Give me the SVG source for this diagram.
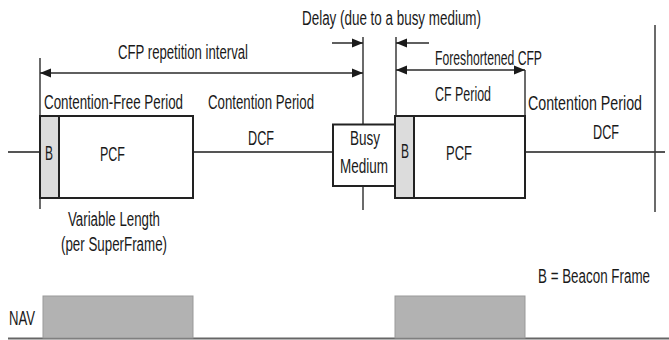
<svg xmlns="http://www.w3.org/2000/svg" width="669" height="340" viewBox="0 0 669 340">
<defs>
<style>
text{font-family:"Liberation Sans",Arial,sans-serif;font-size:20px;fill:#1a1a1a}
.ln{stroke:#3a3a3a;stroke-width:1.5;fill:none}
.tl{stroke:#555;stroke-width:1.8;fill:none}
.box{fill:#fff;stroke:#222;stroke-width:2}
.bcn{fill:#dcdcdc;stroke:#222;stroke-width:2}
.nav{fill:#b2b2b2;stroke:#999;stroke-width:1}
.arr{stroke:#2a2a2a;stroke-width:1.5;fill:none;marker-end:url(#ah)}
.arr2{stroke:#2a2a2a;stroke-width:1.5;fill:none;marker-start:url(#ah);marker-end:url(#ah)}
</style>
<marker id="ah" markerUnits="userSpaceOnUse" markerWidth="12" markerHeight="10" refX="11" refY="5" orient="auto-start-reverse">
<path d="M0,0.5 L11,5 L0,9.5 z" fill="#1a1a1a"/>
</marker>
</defs>

<g id="connectors">
<path class="tl" d="M8,152 H40 M193,152 H333 M525,152 H665"/>
<path class="ln" d="M40,58 V209"/>
<path class="ln" d="M363,37 V210"/>
<path class="ln" d="M396,37 V116"/>
<path class="ln" d="M525,70 V116"/>
<path class="ln" d="M655,25 V212"/>
<path class="arr2" d="M40,73 H363"/>
<path class="arr" d="M332,43 H363"/>
<path class="arr" d="M429,43 H396"/>
<path class="arr2" d="M396,70 H525"/>
<path d="M8,338.5 H669" stroke="#666" stroke-width="2"/>
</g>

<g id="cfp1">
<rect class="box" x="40" y="116" width="153" height="82"/>
<rect class="bcn" x="40" y="116" width="19" height="82"/>
<text x="45" y="160" textLength="8" lengthAdjust="spacingAndGlyphs">B</text>
<text x="100" y="161" textLength="25" lengthAdjust="spacingAndGlyphs">PCF</text>
</g>

<g id="busy">
<rect class="box" x="333" y="124.5" width="62" height="61.5"/>
<text x="350" y="145" textLength="30" lengthAdjust="spacingAndGlyphs">Busy</text>
<text x="340" y="173" textLength="48" lengthAdjust="spacingAndGlyphs">Medium</text>
</g>

<g id="cfp2">
<rect class="box" x="395" y="116" width="130" height="82"/>
<rect class="bcn" x="395" y="116" width="19" height="82"/>
<text x="401" y="158" textLength="8" lengthAdjust="spacingAndGlyphs">B</text>
<text x="446" y="160" textLength="26" lengthAdjust="spacingAndGlyphs">PCF</text>
</g>

<g id="nav">
<rect class="nav" x="43" y="296" width="150" height="42"/>
<rect class="nav" x="395" y="296" width="130" height="42"/>
<text x="9" y="325" textLength="26" lengthAdjust="spacingAndGlyphs">NAV</text>
</g>

<g id="labels">
<text x="302" y="25" textLength="179" lengthAdjust="spacingAndGlyphs">Delay (due to a busy medium)</text>
<text x="118" y="59" textLength="130" lengthAdjust="spacingAndGlyphs">CFP repetition interval</text>
<text x="44" y="109" textLength="139" lengthAdjust="spacingAndGlyphs">Contention-Free Period</text>
<text x="208" y="109" textLength="106" lengthAdjust="spacingAndGlyphs">Contention Period</text>
<text x="435" y="65" textLength="107" lengthAdjust="spacingAndGlyphs">Foreshortened CFP</text>
<text x="435" y="101" textLength="56" lengthAdjust="spacingAndGlyphs">CF Period</text>
<text x="528" y="110" textLength="114" lengthAdjust="spacingAndGlyphs">Contention Period</text>
<text x="248" y="145" textLength="26" lengthAdjust="spacingAndGlyphs">DCF</text>
<text x="593" y="139" textLength="26" lengthAdjust="spacingAndGlyphs">DCF</text>
<text x="68" y="226" textLength="92" lengthAdjust="spacingAndGlyphs">Variable Length</text>
<text x="61" y="251" textLength="106" lengthAdjust="spacingAndGlyphs">(per SuperFrame)</text>
<text x="538" y="283" textLength="112" lengthAdjust="spacingAndGlyphs">B = Beacon Frame</text>
</g>
</svg>
